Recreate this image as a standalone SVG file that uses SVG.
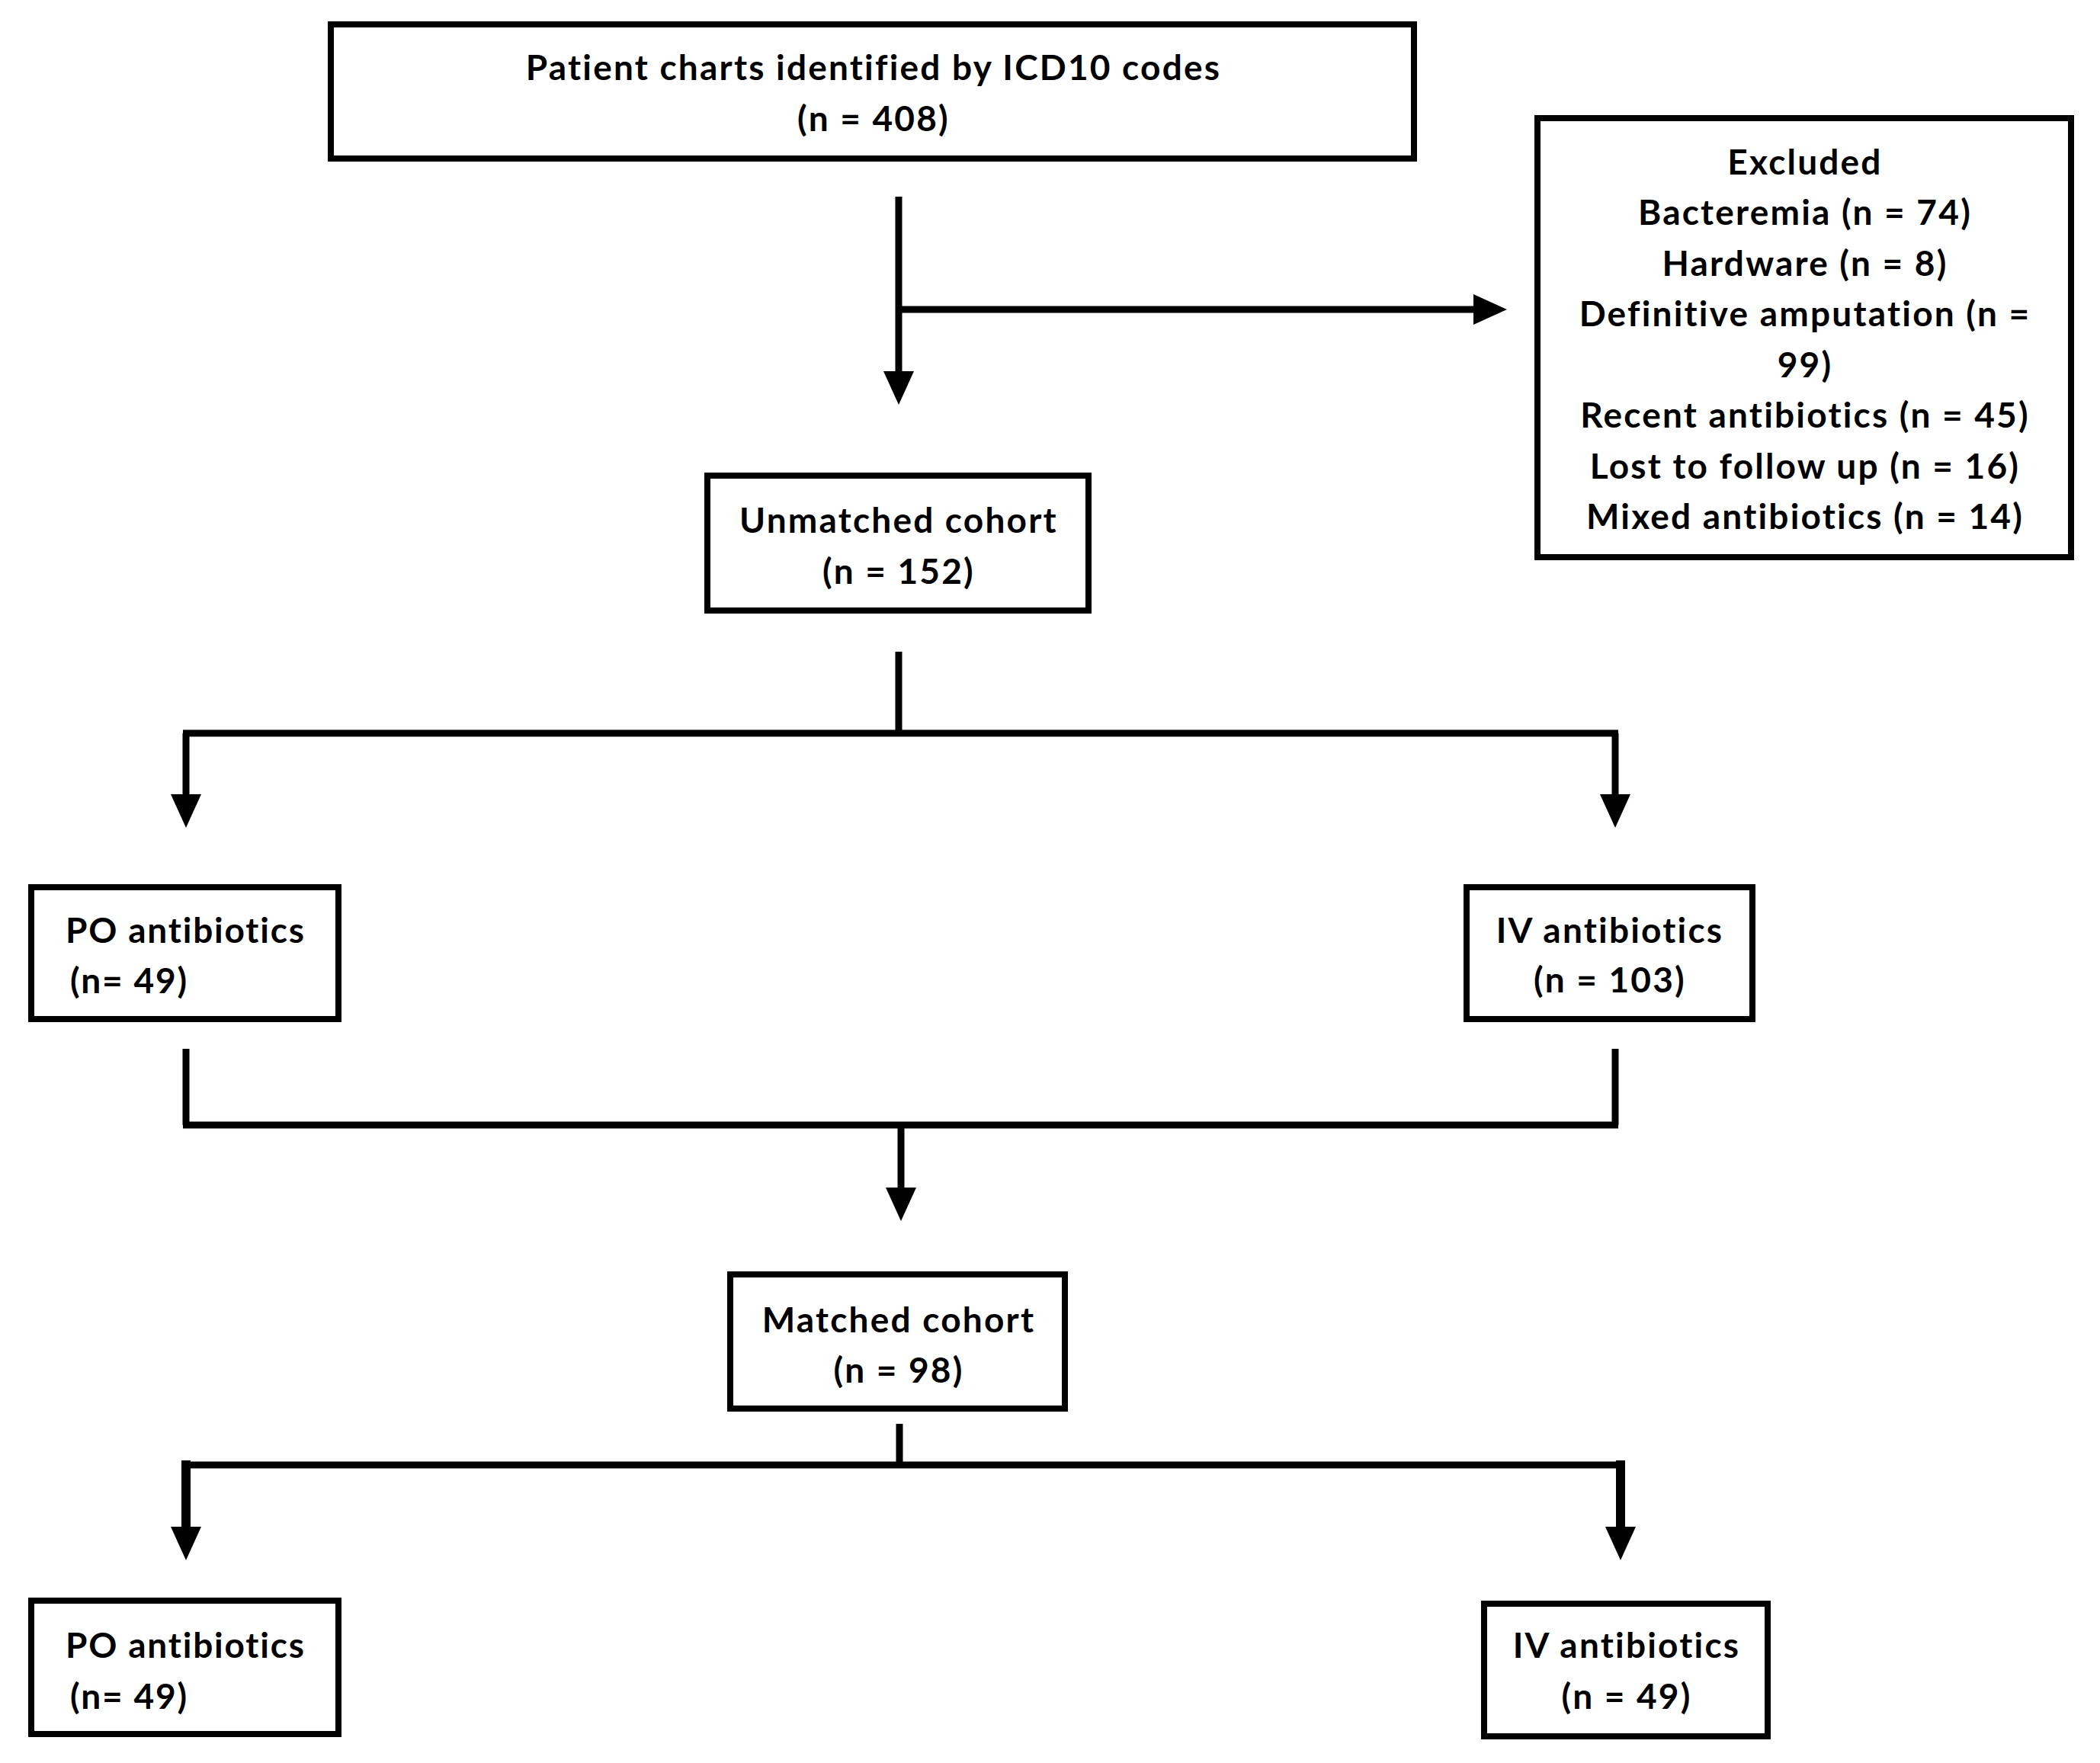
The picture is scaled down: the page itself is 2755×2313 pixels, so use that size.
<svg xmlns="http://www.w3.org/2000/svg" width="2755" height="2313" viewBox="0 0 2755 2313">
<style>
.box{fill:#fff;stroke:#000;stroke-width:8}
.t{font-family:Lato,"Liberation Sans",sans-serif;font-weight:700;font-size:46px;letter-spacing:2.2px;fill:#000;text-anchor:middle}
.ts{text-anchor:start;letter-spacing:1.8px}
.ln{fill:none;stroke:#000;stroke-width:9}
.lt{fill:none;stroke:#000;stroke-width:12}
</style>
<defs>
<marker id="ah" markerUnits="userSpaceOnUse" markerWidth="44" markerHeight="40" refX="14" refY="20" orient="auto" viewBox="0 0 44 40">
<path d="M0,0 L44,20 L0,40 z" fill="#000"/>
</marker>
</defs>
<rect width="2755" height="2313" fill="#fff"/>
<g id="connectors">
<path class="ln" d="M1179,258 V501" marker-end="url(#ah)"/>
<path class="ln" d="M1179,406 H1947" marker-end="url(#ah)"/>
<path class="ln" d="M1179,855 V962"/>
<path class="ln" d="M240,962 H2123"/>
<path class="ln" d="M244,962 V1056" marker-end="url(#ah)"/>
<path class="ln" d="M2119,962 V1056" marker-end="url(#ah)"/>
<path class="ln" d="M244,1376 V1476"/>
<path class="ln" d="M2119,1376 V1476"/>
<path class="ln" d="M240,1476 H2123"/>
<path class="ln" d="M1182,1476 V1572" marker-end="url(#ah)"/>
<path class="ln" d="M1180,1868 V1922"/>
<path class="ln" d="M238,1922 H2132"/>
<path class="lt" d="M244,1916 V2017" marker-end="url(#ah)"/>
<path class="lt" d="M2126,1916 V2017" marker-end="url(#ah)"/>
</g>
<g id="n-top">
<rect class="box" x="434" y="32" width="1421" height="176"/>
<text class="t" x="1146" y="105">Patient charts identified by ICD10 codes</text>
<text class="t" x="1146" y="172">(n = 408)</text>
</g>
<g id="n-excluded">
<rect class="box" x="2017" y="155" width="700" height="576"/>
<text class="t" x="2368" y="229">Excluded</text>
<text class="t" x="2368" y="295">Bacteremia (n = 74)</text>
<text class="t" x="2368" y="362">Hardware (n = 8)</text>
<text class="t" x="2368" y="428">Definitive amputation (n =</text>
<text class="t" x="2368" y="495">99)</text>
<text class="t" x="2368" y="561">Recent antibiotics (n = 45)</text>
<text class="t" x="2368" y="628">Lost to follow up (n = 16)</text>
<text class="t" x="2368" y="694">Mixed antibiotics (n = 14)</text>
</g>
<g id="n-unmatched">
<rect class="box" x="928" y="624" width="500" height="177"/>
<text class="t" x="1179" y="699">Unmatched cohort</text>
<text class="t" x="1179" y="766">(n = 152)</text>
</g>
<g id="n-po1">
<rect class="box" x="41" y="1164" width="403" height="173"/>
<text class="t ts" x="86" y="1237">PO antibiotics</text>
<text class="t ts" x="92" y="1303">(n= 49)</text>
</g>
<g id="n-iv1">
<rect class="box" x="1924" y="1164" width="375" height="173"/>
<text class="t" x="2112" y="1237">IV antibiotics</text>
<text class="t" x="2112" y="1302">(n = 103)</text>
</g>
<g id="n-matched">
<rect class="box" x="958" y="1672" width="439" height="176"/>
<text class="t" x="1179" y="1748">Matched cohort</text>
<text class="t" x="1179" y="1814">(n = 98)</text>
</g>
<g id="n-po2">
<rect class="box" x="41" y="2100" width="403" height="175"/>
<text class="t ts" x="86" y="2175">PO antibiotics</text>
<text class="t ts" x="92" y="2242">(n= 49)</text>
</g>
<g id="n-iv2">
<rect class="box" x="1947" y="2104" width="372" height="174"/>
<text class="t" x="2134" y="2175">IV antibiotics</text>
<text class="t" x="2134" y="2242">(n = 49)</text>
</g>
</svg>
